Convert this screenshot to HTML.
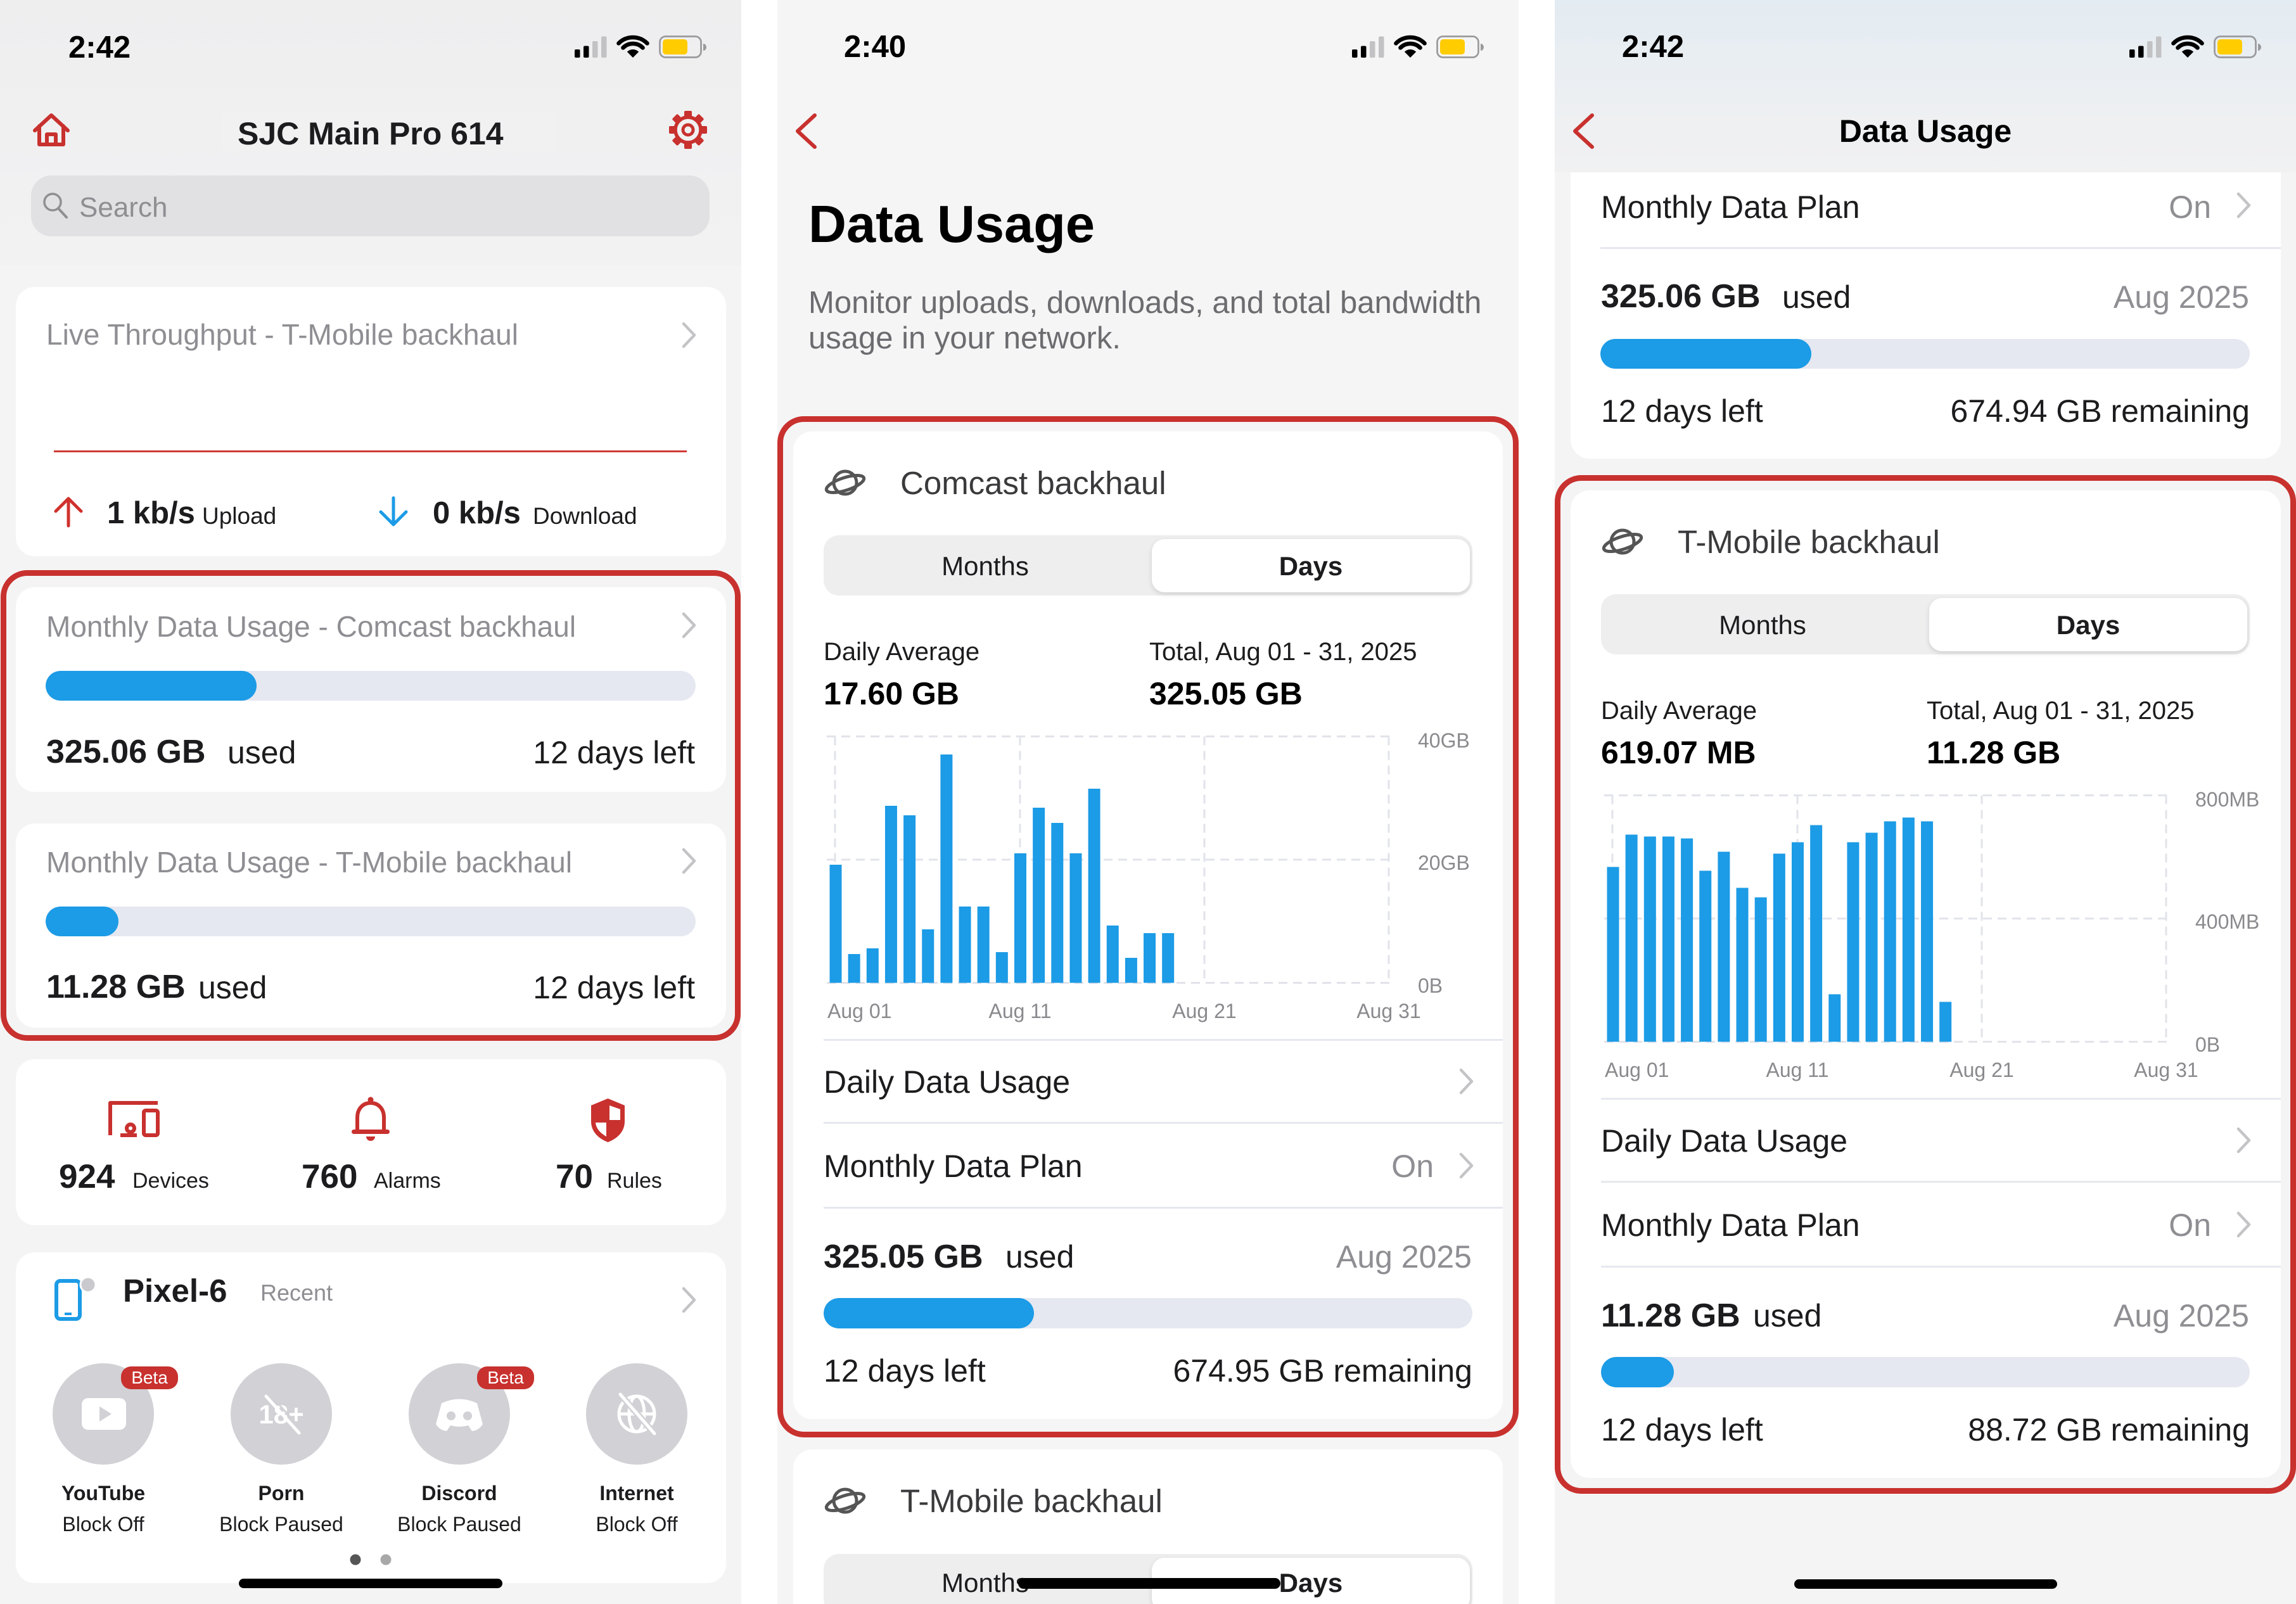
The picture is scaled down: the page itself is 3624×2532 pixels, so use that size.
<!DOCTYPE html>
<html><head><meta charset="utf-8">
<style>
*{margin:0;padding:0;box-sizing:border-box}
body{width:3624px;height:2532px;background:#fff;position:relative;overflow:hidden;font-family:"Liberation Sans",Arial,sans-serif;}
.p{position:absolute;top:0;width:1170px;height:2532px;overflow:hidden;}
.t{position:absolute;white-space:nowrap;line-height:1;color:#1c1c1e;}
.b{font-weight:bold}
.g{color:#8e8e93}
.c{transform:translateX(-50%)}
.card{position:absolute;background:#fff;border-radius:30px;}
.abs{position:absolute}
.rb{position:absolute;border:9px solid #c8312e;border-radius:42px;}
.seg{position:absolute;background:#eeeeef;border-radius:24px;}
.sel{position:absolute;background:#fff;border-radius:20px;box-shadow:0 3px 8px rgba(0,0,0,0.13);}
.bar{position:absolute;background:#e5e8f0;border-radius:24px;overflow:hidden;}
.bar i{position:absolute;left:0;top:0;bottom:0;background:#1c9be6;border-radius:24px;}
.ax{font-size:32px;color:#8a8a8e}
.blk{position:absolute;left:0;width:1170px;height:2532px;}
svg{position:absolute;left:0;top:0;overflow:visible}
.beta{position:absolute;width:90px;height:36px;background:#c8312e;border-radius:16px;color:#fff;font-size:28px;line-height:36px;text-align:center;}
</style></head><body>

<!-- ================= PANEL 1 ================= -->
<div class="p" style="left:0;background:#f4f4f4;">
  <div class="abs" style="left:0;top:0;width:1170px;height:419px;background:linear-gradient(#eeeeef,#f2f2f3);"></div>
  <div class="abs" style="left:350px;top:175px;width:527px;height:63px;background:rgba(255,255,255,0.12);border-radius:6px;"></div>
  <div class="abs" style="left:49px;top:277px;width:1071px;height:96px;border-radius:32px;background:#e1e1e3;"></div>

  <div class="card" style="left:25px;top:453px;width:1121px;height:425px;"></div>
  <div class="card" style="left:25px;top:927px;width:1121px;height:323px;"></div>
  <div class="card" style="left:25px;top:1300px;width:1121px;height:322px;"></div>
  <div class="card" style="left:25px;top:1672px;width:1121px;height:262px;"></div>
  <div class="card" style="left:25px;top:1977px;width:1121px;height:522px;"></div>

  <div class="rb" style="left:1px;top:900px;width:1168px;height:743px;"></div>

  <div class="bar" style="left:72px;top:1059px;width:1026px;height:47px;"><i style="width:333px"></i></div>
  <div class="bar" style="left:72px;top:1431px;width:1026px;height:47px;"><i style="width:115px"></i></div>

  <svg width="1170" height="2532">
    <rect x="907" y="78" width="8.5" height="13" rx="2" fill="#000"/>
    <rect x="921" y="72.5" width="8.5" height="18.5" rx="2" fill="#000"/>
    <rect x="935" y="65" width="8.5" height="26" rx="2" fill="#c2c2c4"/>
    <rect x="949" y="57.5" width="8.5" height="33.5" rx="2" fill="#c2c2c4"/>
    <path d="M999,91 L989.8,81.8 A13,13 0 0 1 1008.2,81.8 Z" fill="#000"/>
    <path d="M983.4,75.4 A22,22 0 0 1 1014.6,75.4" stroke="#000" stroke-width="6.5" fill="none" stroke-linecap="round"/>
    <path d="M976.4,68.4 A32,32 0 0 1 1021.6,68.4" stroke="#000" stroke-width="6.5" fill="none" stroke-linecap="round"/>
    <rect x="1041.5" y="57.5" width="65" height="33" rx="9" fill="none" stroke="#9a9a9c" stroke-width="2.7"/>
    <rect x="1046" y="62" width="39" height="24" rx="5" fill="#ffcc00"/>
    <path d="M1110,69 a5,5.5 0 0 1 0,11 z" fill="#9a9a9c"/>
    <g stroke="#c8312e" stroke-width="6" fill="none" stroke-linejoin="round" stroke-linecap="round">
      <path d="M55,206 L81,182 L107,206"/>
      <path d="M62,199 V228 H100 V199"/>
      <path d="M74,228 V212 H88 V228"/>
    </g>
    <g fill="#c8312e">
      <rect x="1080" y="175" width="12" height="12" rx="2"/>
      <rect x="1080" y="175" width="12" height="12" rx="2" transform="rotate(45 1086 205)"/>
      <rect x="1080" y="175" width="12" height="12" rx="2" transform="rotate(90 1086 205)"/>
      <rect x="1080" y="175" width="12" height="12" rx="2" transform="rotate(135 1086 205)"/>
      <rect x="1080" y="175" width="12" height="12" rx="2" transform="rotate(180 1086 205)"/>
      <rect x="1080" y="175" width="12" height="12" rx="2" transform="rotate(225 1086 205)"/>
      <rect x="1080" y="175" width="12" height="12" rx="2" transform="rotate(270 1086 205)"/>
      <rect x="1080" y="175" width="12" height="12" rx="2" transform="rotate(315 1086 205)"/>
    </g>
    <circle cx="1086" cy="205" r="20" fill="#f0f0f1" stroke="#c8312e" stroke-width="5.5"/>
    <circle cx="1086" cy="205" r="8" fill="none" stroke="#c8312e" stroke-width="5"/>
    <circle cx="83" cy="319" r="13" fill="none" stroke="#8e8e93" stroke-width="3.5"/>
    <line x1="93" y1="330" x2="105" y2="343" stroke="#8e8e93" stroke-width="4" stroke-linecap="round"/>
    <g stroke="#c4c4c7" stroke-width="4.5" fill="none" stroke-linecap="round" stroke-linejoin="round">
      <polyline points="1079,511 1096,529 1079,547"/>
      <polyline points="1079,969 1096,987 1079,1005"/>
      <polyline points="1079,1341 1096,1359 1079,1377"/>
      <polyline points="1079,2034 1096,2052 1079,2070"/>
    </g>
    <rect x="85" y="711" width="999" height="3" fill="#d03a36"/>
    <g stroke="#d0312d" stroke-width="5" fill="none" stroke-linecap="round" stroke-linejoin="round">
      <path d="M108,788 V830"/><path d="M88,807 L108,787 L128,807"/>
    </g>
    <g stroke="#1c9be6" stroke-width="5" fill="none" stroke-linecap="round" stroke-linejoin="round">
      <path d="M621,786 V828"/><path d="M601,808 L621,828 L641,808"/>
    </g>
    <g stroke="#c8312e" stroke-width="6" fill="none" stroke-linejoin="round">
      <path d="M174,1792 V1741 H249"/>
      <rect x="227" y="1753" width="22" height="39" rx="3"/>
      <circle cx="206" cy="1781" r="6"/>
      <path d="M190,1792 H216"/>
    </g>
    <circle cx="585" cy="1736" r="4.5" fill="#c8312e"/>
    <path d="M564,1786 L564,1764 C564,1750 573,1741 585,1741 C597,1741 606,1750 606,1764 L606,1786" stroke="#c8312e" stroke-width="6" fill="none"/>
    <rect x="555" y="1783" width="60" height="7" rx="3.5" fill="#c8312e"/>
    <path d="M578,1794 a7,7 0 0 0 14,0 z" fill="#c8312e"/>
    <path d="M959.5,1734 L986,1745 V1770 C986,1786 975,1797 959.5,1803 C944,1797 933,1786 933,1770 V1745 Z" fill="#c8312e"/>
    <path d="M962,1745 L979,1751 V1768 H962 Z" fill="#fff"/>
    <path d="M940,1772 H957 V1794 C948,1789 941,1782 940,1772 Z" fill="#fff"/>
    <rect x="89" y="2022" width="37" height="60" rx="6" fill="none" stroke="#1c9be6" stroke-width="6"/>
    <rect x="102" y="2072" width="11" height="4" fill="#1c9be6"/>
    <circle cx="139" cy="2028" r="12" fill="#c9c9ce" stroke="#fff" stroke-width="3"/>
    <g fill="#d1d1d6">
      <circle cx="163" cy="2232" r="80"/><circle cx="444" cy="2232" r="80"/>
      <circle cx="725" cy="2232" r="80"/><circle cx="1005" cy="2232" r="80"/>
    </g>
    <rect x="129" y="2207" width="70" height="50" rx="10" fill="#fff"/>
    <polygon points="157,2220 176,2232 157,2244" fill="#d1d1d6"/>
    <text x="444" y="2247" font-family="Liberation Sans, Arial, sans-serif" font-size="42" font-weight="bold" fill="#fff" text-anchor="middle">18+</text>
    <line x1="420" y1="2204" x2="472" y2="2262" stroke="#fff" stroke-width="5" stroke-linecap="round"/>
    <line x1="425" y1="2200" x2="477" y2="2258" stroke="#d1d1d6" stroke-width="3"/>
    <path d="M697,2215 Q725,2202 753,2215 L762,2248 Q756,2258 745,2259 L739,2250 Q725,2254 711,2250 L705,2259 Q694,2258 688,2248 Z" fill="#fff"/>
    <circle cx="712" cy="2235" r="7" fill="#d1d1d6"/><circle cx="738" cy="2235" r="7" fill="#d1d1d6"/>
    <g stroke="#fff" stroke-width="5" fill="none">
      <circle cx="1005" cy="2232" r="28"/>
      <ellipse cx="1005" cy="2232" rx="12" ry="28"/>
      <line x1="977" y1="2232" x2="1033" y2="2232"/>
    </g>
    <line x1="979" y1="2201" x2="1033" y2="2263" stroke="#d1d1d6" stroke-width="10"/>
    <line x1="979" y1="2201" x2="1033" y2="2263" stroke="#fff" stroke-width="5" stroke-linecap="round"/>
    <circle cx="561" cy="2462" r="8.5" fill="#555"/>
    <circle cx="609" cy="2462" r="8.5" fill="#a8a8a8"/>
    <rect x="377" y="2492" width="416" height="15" rx="7.5" fill="#000"/>
  </svg>

  <div class="beta" style="left:191px;top:2157px;">Beta</div>
  <div class="beta" style="left:753px;top:2157px;">Beta</div>

  <div class="t b" style="left:108px;top:50.5px;font-size:49px;color:#000">2:42</div>
  <div class="t b" style="left:375px;top:185.7px;font-size:50px;">SJC Main Pro 614</div>
  <div class="t g" style="left:125px;top:305.8px;font-size:44px;">Search</div>
  <div class="t g" style="left:73px;top:505.1px;font-size:46px;">Live Throughput - T-Mobile backhaul</div>
  <div class="t b" style="left:169px;top:785.5px;font-size:49px;">1 kb/s</div>
  <div class="t" style="left:319px;top:795.7px;font-size:37px;">Upload</div>
  <div class="t b" style="left:683px;top:785.5px;font-size:49px;">0 kb/s</div>
  <div class="t" style="left:841px;top:795.7px;font-size:37px;">Download</div>

  <div class="t g" style="left:73px;top:966.1px;font-size:46px;">Monthly Data Usage - Comcast backhaul</div>
  <div class="t b" style="left:73px;top:1161px;font-size:52px;">325.06 GB</div>
  <div class="t" style="left:359px;top:1162.7px;font-size:50px;">used</div>
  <div class="t" style="right:73px;top:1162.7px;font-size:50px;">12 days left</div>

  <div class="t g" style="left:73px;top:1338.1px;font-size:46px;">Monthly Data Usage - T-Mobile backhaul</div>
  <div class="t b" style="left:73px;top:1532px;font-size:52px;">11.28 GB</div>
  <div class="t" style="left:313px;top:1533.7px;font-size:50px;">used</div>
  <div class="t" style="right:73px;top:1533.7px;font-size:50px;">12 days left</div>

  <div class="t b" style="left:93px;top:1831.1px;font-size:53px;">924</div>
  <div class="t" style="left:209px;top:1847.2px;font-size:34px;">Devices</div>
  <div class="t b" style="left:476px;top:1831.1px;font-size:53px;">760</div>
  <div class="t" style="left:590px;top:1847.2px;font-size:34px;">Alarms</div>
  <div class="t b" style="left:877px;top:1831.1px;font-size:53px;">70</div>
  <div class="t" style="left:958px;top:1847.2px;font-size:34px;">Rules</div>

  <div class="t b" style="left:194px;top:2011.8px;font-size:51px;">Pixel-6</div>
  <div class="t g" style="left:411px;top:2022.5px;font-size:36px;">Recent</div>

  <div class="t b c" style="left:163px;top:2340.9px;font-size:32px;">YouTube</div>
  <div class="t c" style="left:163px;top:2389.9px;font-size:32px;">Block Off</div>
  <div class="t b c" style="left:444px;top:2340.9px;font-size:32px;">Porn</div>
  <div class="t c" style="left:444px;top:2389.9px;font-size:32px;">Block Paused</div>
  <div class="t b c" style="left:725px;top:2340.9px;font-size:32px;">Discord</div>
  <div class="t c" style="left:725px;top:2389.9px;font-size:32px;">Block Paused</div>
  <div class="t b c" style="left:1005px;top:2340.9px;font-size:32px;">Internet</div>
  <div class="t c" style="left:1005px;top:2389.9px;font-size:32px;">Block Off</div>
</div>

<!-- ================= PANEL 2 ================= -->
<div class="p" style="left:1227px;background:#f5f5f5;">
  <div class="rb" style="left:0;top:657px;width:1170px;height:1612px;"></div>
  <div class="card" style="left:25px;top:681px;width:1120px;height:1559px;"></div>
  <div class="card" style="left:25px;top:2288px;width:1120px;height:320px;"></div>

  <div class="seg" style="left:73px;top:845px;width:1024px;height:95px;"></div>
  <div class="sel" style="left:591px;top:851px;width:502px;height:84px;"></div>
  <div class="seg" style="left:73px;top:2453px;width:1024px;height:95px;"></div>
  <div class="sel" style="left:591px;top:2459px;width:502px;height:84px;"></div>

  <div class="abs" style="left:73px;top:1640px;width:1072px;height:3px;background:#e6e8ef"></div>
  <div class="abs" style="left:73px;top:1771px;width:1072px;height:3px;background:#e6e8ef"></div>
  <div class="abs" style="left:73px;top:1905px;width:1072px;height:3px;background:#e6e8ef"></div>
  <div class="bar" style="left:73px;top:2049px;width:1024px;height:48px;"><i style="width:332px"></i></div>

  <svg width="1170" height="2532">
    <rect x="907" y="78" width="8.5" height="13" rx="2" fill="#000"/>
    <rect x="921" y="72.5" width="8.5" height="18.5" rx="2" fill="#000"/>
    <rect x="935" y="65" width="8.5" height="26" rx="2" fill="#c2c2c4"/>
    <rect x="949" y="57.5" width="8.5" height="33.5" rx="2" fill="#c2c2c4"/>
    <path d="M999,91 L989.8,81.8 A13,13 0 0 1 1008.2,81.8 Z" fill="#000"/>
    <path d="M983.4,75.4 A22,22 0 0 1 1014.6,75.4" stroke="#000" stroke-width="6.5" fill="none" stroke-linecap="round"/>
    <path d="M976.4,68.4 A32,32 0 0 1 1021.6,68.4" stroke="#000" stroke-width="6.5" fill="none" stroke-linecap="round"/>
    <rect x="1041.5" y="57.5" width="65" height="33" rx="9" fill="none" stroke="#9a9a9c" stroke-width="2.7"/>
    <rect x="1046" y="62" width="39" height="24" rx="5" fill="#ffcc00"/>
    <path d="M1110,69 a5,5.5 0 0 1 0,11 z" fill="#9a9a9c"/>
    <polyline points="59,182 32,207 59,232" stroke="#c8312e" stroke-width="6" fill="none" stroke-linecap="round" stroke-linejoin="round"/>
    <g stroke="#555" stroke-width="5" fill="none">
      <circle cx="107" cy="762" r="18"/>
      <ellipse cx="107" cy="764" rx="31" ry="10" transform="rotate(-18 107 764)"/>
      <circle cx="107" cy="2369" r="18"/>
      <ellipse cx="107" cy="2371" rx="31" ry="10" transform="rotate(-18 107 2371)"/>
    </g>
    <g stroke="#e2e3ea" stroke-width="3" stroke-dasharray="14 9" fill="none">
      <line x1="78" y1="1162.5" x2="969" y2="1162.5"/>
      <line x1="78" y1="1357" x2="969" y2="1357"/>
      <line x1="78" y1="1551.5" x2="969" y2="1551.5"/>
      <line x1="91" y1="1162.5" x2="91" y2="1551.5"/>
      <line x1="383" y1="1162.5" x2="383" y2="1551.5"/>
      <line x1="674" y1="1162.5" x2="674" y2="1551.5"/>
      <line x1="965" y1="1162.5" x2="965" y2="1551.5"/>
    </g>
    <g fill="#1c9be6">
      <rect x="82.5" y="1365" width="19" height="186.5"/>
      <rect x="111.65" y="1506" width="19" height="45.5"/>
      <rect x="140.8" y="1497" width="19" height="54.5"/>
      <rect x="169.95" y="1272" width="19" height="279.5"/>
      <rect x="199.1" y="1287" width="19" height="264.5"/>
      <rect x="228.25" y="1467" width="19" height="84.5"/>
      <rect x="257.4" y="1191" width="19" height="360.5"/>
      <rect x="286.55" y="1431" width="19" height="120.5"/>
      <rect x="315.7" y="1431" width="19" height="120.5"/>
      <rect x="344.85" y="1503" width="19" height="48.5"/>
      <rect x="374" y="1347" width="19" height="204.5"/>
      <rect x="403.15" y="1275" width="19" height="276.5"/>
      <rect x="432.3" y="1299" width="19" height="252.5"/>
      <rect x="461.45" y="1347" width="19" height="204.5"/>
      <rect x="490.6" y="1245" width="19" height="306.5"/>
      <rect x="519.75" y="1461" width="19" height="90.5"/>
      <rect x="548.9" y="1512" width="19" height="39.5"/>
      <rect x="578.05" y="1473" width="19" height="78.5"/>
      <rect x="607.2" y="1473" width="19" height="78.5"/>
    </g>
    <g stroke="#c4c4c7" stroke-width="4.5" fill="none" stroke-linecap="round" stroke-linejoin="round">
      <polyline points="1079,1689 1096,1707 1079,1725"/>
      <polyline points="1079,1822 1096,1840 1079,1858"/>
    </g>
  </svg>

  <div class="t b" style="left:105px;top:49.5px;font-size:49px;color:#000">2:40</div>
  <div class="t b" style="left:49px;top:311.7px;font-size:83px;color:#000">Data Usage</div>
  <div class="t" style="left:49px;top:453.5px;font-size:49px;color:#6c6c70">Monitor uploads, downloads, and total bandwidth</div>
  <div class="t" style="left:49px;top:509.5px;font-size:49px;color:#6c6c70">usage in your network.</div>

  <div class="t" style="left:194px;top:736.8px;font-size:51px;color:#3a3a3c">Comcast backhaul</div>
  <div class="t c" style="left:328px;top:872.5px;font-size:42px;">Months</div>
  <div class="t b c" style="left:842px;top:872.5px;font-size:42px;">Days</div>
  <div class="t" style="left:73px;top:1009.1px;font-size:40px;">Daily Average</div>
  <div class="t" style="left:587px;top:1009.1px;font-size:40px;">Total, Aug 01 - 31, 2025</div>
  <div class="t b" style="left:73px;top:1069.7px;font-size:50px;color:#000">17.60 GB</div>
  <div class="t b" style="left:587px;top:1069.7px;font-size:50px;color:#000">325.05 GB</div>

  <div class="t ax" style="left:1011px;top:1152.9px;">40GB</div>
  <div class="t ax" style="left:1011px;top:1345.9px;">20GB</div>
  <div class="t ax" style="left:1011px;top:1539.9px;">0B</div>
  <div class="t ax" style="left:79px;top:1579.9px;">Aug 01</div>
  <div class="t ax c" style="left:383px;top:1579.9px;">Aug 11</div>
  <div class="t ax c" style="left:674px;top:1579.9px;">Aug 21</div>
  <div class="t ax c" style="left:965px;top:1579.9px;">Aug 31</div>

  <div class="t" style="left:73px;top:1683.2px;font-size:50px;">Daily Data Usage</div>
  <div class="t" style="left:73px;top:1815.7px;font-size:50px;">Monthly Data Plan</div>
  <div class="t g" style="right:134px;top:1815.7px;font-size:50px;">On</div>
  <div class="t b" style="left:73px;top:1957.6px;font-size:52px;">325.05 GB</div>
  <div class="t" style="left:360px;top:1959.3px;font-size:50px;">used</div>
  <div class="t g" style="right:74px;top:1959.3px;font-size:50px;">Aug 2025</div>
  <div class="t" style="left:73px;top:2139.3px;font-size:50px;">12 days left</div>
  <div class="t" style="right:73px;top:2139.3px;font-size:50px;">674.95 GB remaining</div>

  <div class="t" style="left:194px;top:2343.8px;font-size:51px;color:#3a3a3c">T-Mobile backhaul</div>
  <div class="t c" style="left:328px;top:2477.5px;font-size:42px;">Months</div>
  <div class="t b c" style="left:842px;top:2477.5px;font-size:42px;">Days</div>
  <div class="abs" style="left:380px;top:2491px;width:414px;height:17px;border-radius:8.5px;background:#000"></div>
</div>

<!-- ================= PANEL 3 ================= -->
<div class="p" style="left:2454px;background:#f4f4f5;">
  <div class="card" style="left:25px;top:150px;width:1121px;height:574px;"></div>
  <div class="abs" style="left:72px;top:390px;width:1074px;height:3px;background:#e6e8ef"></div>
  <div class="bar" style="left:72px;top:534.5px;width:1025px;height:47px;"><i style="width:333px"></i></div>
  <div class="t" style="left:73px;top:301.7px;font-size:50px;">Monthly Data Plan</div>
  <div class="t g" style="right:134px;top:301.7px;font-size:50px;">On</div>
  <div class="t b" style="left:73px;top:442px;font-size:52px;">325.06 GB</div>
  <div class="t" style="left:359px;top:443.7px;font-size:50px;">used</div>
  <div class="t g" style="right:74px;top:443.7px;font-size:50px;">Aug 2025</div>
  <div class="t" style="left:73px;top:623.7px;font-size:50px;">12 days left</div>
  <div class="t" style="right:73px;top:623.7px;font-size:50px;">674.94 GB remaining</div>

  <div class="abs" style="left:0;top:0;width:1170px;height:272px;background:linear-gradient(180deg,#e3ecf2 0%,#eceff2 55%,#f1f1f2 100%);"></div>

  <div class="blk" style="top:93px;">
    <div class="rb" style="left:0;top:657px;width:1170px;height:1608px;"></div>
    <div class="card" style="left:25px;top:681px;width:1121px;height:1559px;"></div>
    <div class="seg" style="left:73px;top:845px;width:1024px;height:95px;"></div>
    <div class="sel" style="left:591px;top:851px;width:502px;height:84px;"></div>
    <div class="abs" style="left:73px;top:1640px;width:1073px;height:3px;background:#e6e8ef"></div>
    <div class="abs" style="left:73px;top:1771px;width:1073px;height:3px;background:#e6e8ef"></div>
    <div class="abs" style="left:73px;top:1905px;width:1073px;height:3px;background:#e6e8ef"></div>
    <div class="bar" style="left:73px;top:2049px;width:1024px;height:48px;"><i style="width:115px"></i></div>

    <svg width="1170" height="2532">
      <g stroke="#555" stroke-width="5" fill="none">
        <circle cx="107" cy="762" r="18"/>
        <ellipse cx="107" cy="764" rx="31" ry="10" transform="rotate(-18 107 764)"/>
      </g>
      <g stroke="#e2e3ea" stroke-width="3" stroke-dasharray="14 9" fill="none">
        <line x1="78" y1="1162.5" x2="969" y2="1162.5"/>
        <line x1="78" y1="1357" x2="969" y2="1357"/>
        <line x1="78" y1="1551.5" x2="969" y2="1551.5"/>
        <line x1="91" y1="1162.5" x2="91" y2="1551.5"/>
        <line x1="383" y1="1162.5" x2="383" y2="1551.5"/>
        <line x1="674" y1="1162.5" x2="674" y2="1551.5"/>
        <line x1="965" y1="1162.5" x2="965" y2="1551.5"/>
      </g>
      <g fill="#1c9be6">
        <rect x="82.5" y="1275.5" width="19" height="276"/>
        <rect x="111.65" y="1224.5" width="19" height="327"/>
        <rect x="140.8" y="1227.5" width="19" height="324"/>
        <rect x="169.95" y="1227.5" width="19" height="324"/>
        <rect x="199.1" y="1230.5" width="19" height="321"/>
        <rect x="228.25" y="1281.5" width="19" height="270"/>
        <rect x="257.4" y="1251.5" width="19" height="300"/>
        <rect x="286.55" y="1308.5" width="19" height="243"/>
        <rect x="315.7" y="1323.5" width="19" height="228"/>
        <rect x="344.85" y="1254.5" width="19" height="297"/>
        <rect x="374" y="1236.5" width="19" height="315"/>
        <rect x="403.15" y="1209.5" width="19" height="342"/>
        <rect x="432.3" y="1476.5" width="19" height="75"/>
        <rect x="461.45" y="1236.5" width="19" height="315"/>
        <rect x="490.6" y="1221.5" width="19" height="330"/>
        <rect x="519.75" y="1203.5" width="19" height="348"/>
        <rect x="548.9" y="1197.5" width="19" height="354"/>
        <rect x="578.05" y="1203.5" width="19" height="348"/>
        <rect x="607.2" y="1488.5" width="19" height="63"/>
      </g>
      <g stroke="#c4c4c7" stroke-width="4.5" fill="none" stroke-linecap="round" stroke-linejoin="round">
        <polyline points="1079,1689 1096,1707 1079,1725"/>
        <polyline points="1079,1822 1096,1840 1079,1858"/>
      </g>
    </svg>

    <div class="t" style="left:194px;top:736.8px;font-size:51px;color:#3a3a3c">T-Mobile backhaul</div>
    <div class="t c" style="left:328px;top:872.5px;font-size:42px;">Months</div>
    <div class="t b c" style="left:842px;top:872.5px;font-size:42px;">Days</div>
    <div class="t" style="left:73px;top:1009.1px;font-size:40px;">Daily Average</div>
    <div class="t" style="left:587px;top:1009.1px;font-size:40px;">Total, Aug 01 - 31, 2025</div>
    <div class="t b" style="left:73px;top:1069.7px;font-size:50px;color:#000">619.07 MB</div>
    <div class="t b" style="left:587px;top:1069.7px;font-size:50px;color:#000">11.28 GB</div>

    <div class="t ax" style="left:1011px;top:1152.9px;">800MB</div>
    <div class="t ax" style="left:1011px;top:1345.9px;">400MB</div>
    <div class="t ax" style="left:1011px;top:1539.9px;">0B</div>
    <div class="t ax" style="left:79px;top:1579.9px;">Aug 01</div>
    <div class="t ax c" style="left:383px;top:1579.9px;">Aug 11</div>
    <div class="t ax c" style="left:674px;top:1579.9px;">Aug 21</div>
    <div class="t ax c" style="left:965px;top:1579.9px;">Aug 31</div>

    <div class="t" style="left:73px;top:1683.2px;font-size:50px;">Daily Data Usage</div>
    <div class="t" style="left:73px;top:1815.7px;font-size:50px;">Monthly Data Plan</div>
    <div class="t g" style="right:134px;top:1815.7px;font-size:50px;">On</div>
    <div class="t b" style="left:73px;top:1957.6px;font-size:52px;">11.28 GB</div>
    <div class="t" style="left:313px;top:1959.3px;font-size:50px;">used</div>
    <div class="t g" style="right:74px;top:1959.3px;font-size:50px;">Aug 2025</div>
    <div class="t" style="left:73px;top:2139.3px;font-size:50px;">12 days left</div>
    <div class="t" style="right:73px;top:2139.3px;font-size:50px;">88.72 GB remaining</div>
  </div>

  <svg width="1170" height="2532">
    <rect x="907" y="78" width="8.5" height="13" rx="2" fill="#000"/>
    <rect x="921" y="72.5" width="8.5" height="18.5" rx="2" fill="#000"/>
    <rect x="935" y="65" width="8.5" height="26" rx="2" fill="#c2c2c4"/>
    <rect x="949" y="57.5" width="8.5" height="33.5" rx="2" fill="#c2c2c4"/>
    <path d="M999,91 L989.8,81.8 A13,13 0 0 1 1008.2,81.8 Z" fill="#000"/>
    <path d="M983.4,75.4 A22,22 0 0 1 1014.6,75.4" stroke="#000" stroke-width="6.5" fill="none" stroke-linecap="round"/>
    <path d="M976.4,68.4 A32,32 0 0 1 1021.6,68.4" stroke="#000" stroke-width="6.5" fill="none" stroke-linecap="round"/>
    <rect x="1041.5" y="57.5" width="65" height="33" rx="9" fill="none" stroke="#9a9a9c" stroke-width="2.7"/>
    <rect x="1046" y="62" width="39" height="24" rx="5" fill="#ffcc00"/>
    <path d="M1110,69 a5,5.5 0 0 1 0,11 z" fill="#9a9a9c"/>
    <polyline points="59,182 32,207 59,232" stroke="#c8312e" stroke-width="6" fill="none" stroke-linecap="round" stroke-linejoin="round"/>
    <polyline points="1079,306 1096,324 1079,342" stroke="#c4c4c7" stroke-width="4.5" fill="none" stroke-linecap="round" stroke-linejoin="round"/>
    <rect x="378" y="2493" width="415" height="15" rx="7.5" fill="#000"/>
  </svg>

  <div class="t b" style="left:106px;top:49.5px;font-size:49px;color:#000">2:42</div>
  <div class="t b c" style="left:585px;top:182.2px;font-size:50px;color:#000">Data Usage</div>
</div>

</body></html>
